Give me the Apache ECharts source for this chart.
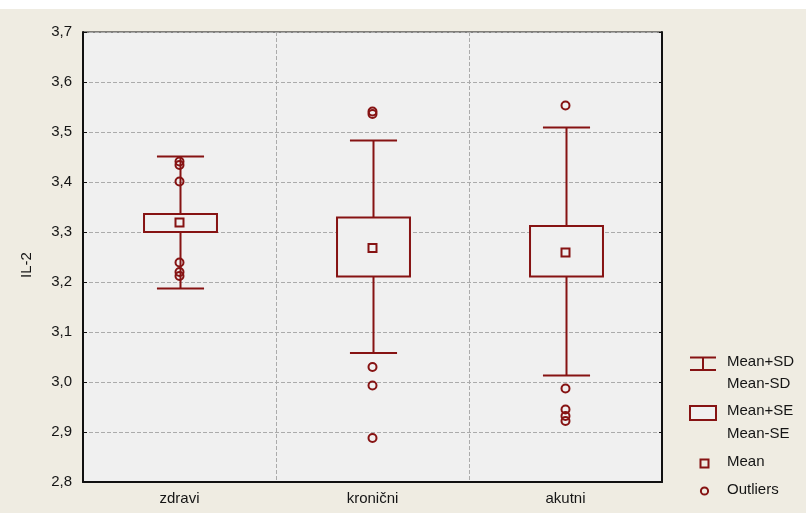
<!DOCTYPE html>
<html>
<head>
<meta charset="utf-8">
<script src="https://cdn.jsdelivr.net/npm/echarts@6/dist/echarts.min.js"></script>
<style>
html,body{margin:0;padding:0;background:#ffffff;}
#chart{position:absolute;left:0;top:9px;width:806px;height:504px;background:#EFECE2;}
</style>
</head>
<body>
<div id="chart"></div>
<script>
const categories = ['zdravi', 'kronični', 'akutni'];
const means  = [3.319, 3.268, 3.259];
const seUpper = [3.336, 3.329, 3.312];
const seLower = [3.300, 3.211, 3.211];
const sdUpper = [3.451, 3.483, 3.509];
const sdLower = [3.187, 3.058, 3.013];
const outliersZdravi = [3.441, 3.434, 3.401, 3.239, 3.220, 3.212];
const outliersKronicni = [3.541, 3.536, 3.030, 2.993, 2.888];
const outliersAkutni = [3.553, 2.987, 2.945, 2.932, 2.922];
const yTicks = { min: 2.8, max: 3.7, interval: 0.1 };

const RED = '#861313';
const PLOT_BG = '#F0F0F0';
const FONT = "'Liberation Sans', Arial, sans-serif";
const TXT = '#151515';

const boxData = categories.map((c, i) => [i, sdLower[i], seLower[i], means[i], seUpper[i], sdUpper[i]]);
const outlierGroups = [outliersZdravi, outliersKronicni, outliersAkutni];
const outlierData = [];
outlierGroups.forEach((g, i) => g.forEach(v => outlierData.push([i, v])));
const meanData = categories.map((c, i) => [i, means[i]]);

const chart = echarts.init(document.getElementById('chart'), null, {renderer: 'canvas'});

function renderWhisker(params, api) {
  const idx = api.value(0);
  const band = api.size([1, 0])[0];
  const capW = band * 0.244;
  const lo = api.coord([idx, api.value(1)]);
  const hi = api.coord([idx, api.value(5)]);
  const x = Math.round(lo[0]) + 0.5;
  const st = {stroke: RED, lineWidth: 2, fill: null};
  return {
    type: 'group',
    children: [
      {type: 'line', shape: {x1: x, y1: lo[1], x2: x, y2: hi[1]}, style: st},
      {type: 'line', shape: {x1: x - capW / 2, y1: lo[1], x2: x + capW / 2, y2: lo[1]}, style: st},
      {type: 'line', shape: {x1: x - capW / 2, y1: hi[1], x2: x + capW / 2, y2: hi[1]}, style: st}
    ]
  };
}

function renderBox(params, api) {
  const idx = api.value(0);
  const band = api.size([1, 0])[0];
  const boxW = band * 0.378;
  const lo = api.coord([idx, api.value(2)]);
  const hi = api.coord([idx, api.value(4)]);
  const x = Math.round(lo[0]) + 0.5;
  return {
    type: 'rect',
    shape: {x: x - boxW / 2, y: hi[1], width: boxW, height: lo[1] - hi[1]},
    style: {stroke: RED, lineWidth: 2, fill: PLOT_BG}
  };
}

const legendX = 690;
const legendTextX = 727;
const textStyle = (t, y) => ({
  type: 'text', left: legendTextX, top: y - 9,
  style: {text: t, fill: TXT, font: '15px ' + FONT, textVerticalAlign: 'top'}
});

const option = {
  animation: false,
  backgroundColor: '#EFECE2',
  textStyle: {fontFamily: FONT},
  grid: {left: 83, right: 144, top: 23, bottom: 31, show: true, backgroundColor: PLOT_BG, borderColor: '#111', borderWidth: 1},
  xAxis: {
    type: 'category',
    data: categories,
    boundaryGap: true,
    axisLine: {show: true, lineStyle: {color: '#111', width: 2}},
    axisTick: {show: false},
    axisLabel: {color: TXT, fontSize: 15, fontFamily: FONT, margin: 9},
    splitLine: {show: true, interval: 0, lineStyle: {color: '#ABABAB', type: [4, 2], width: 1}}
  },
  yAxis: [{
    type: 'value',
    min: yTicks.min, max: yTicks.max, interval: yTicks.interval,
    axisLine: {show: true, lineStyle: {color: '#111', width: 2}},
    axisTick: {show: true, inside: true, length: 4, lineStyle: {color: '#111'}},
    axisLabel: {color: TXT, fontSize: 15, fontFamily: FONT, margin: 11,
      formatter: v => v.toFixed(1).replace('.', ',')},
    splitLine: {show: true, lineStyle: {color: '#ABABAB', type: [4, 2], width: 1}}
  }, {
    type: 'value', position: 'right',
    min: yTicks.min, max: yTicks.max, interval: yTicks.interval,
    axisLine: {show: true, lineStyle: {color: '#111', width: 2}},
    axisTick: {show: true, inside: true, length: 3, lineStyle: {color: '#111'}},
    axisLabel: {show: false},
    splitLine: {show: false}
  }],
  series: [
    {
      name: 'SD', type: 'custom', renderItem: renderWhisker,
      data: boxData, encode: {x: 0, y: [1, 5]}, z: 2
    },
    {
      name: 'SE', type: 'custom', renderItem: renderBox,
      data: boxData, encode: {x: 0, y: [2, 4]}, z: 3
    },
    {
      name: 'Mean', type: 'scatter', data: meanData, symbol: 'rect', symbolSize: 8,
      itemStyle: {color: PLOT_BG, borderColor: RED, borderWidth: 2, opacity: 1}, z: 5
    },
    {
      name: 'Outliers', type: 'scatter', data: outlierData, symbol: 'circle', symbolSize: 8,
      itemStyle: {color: 'rgba(0,0,0,0)', borderColor: RED, borderWidth: 2, opacity: 1}, z: 4
    }
  ],
  graphic: [
    {type: 'text', x: 27, y: 256, rotation: Math.PI / 2,
      style: {text: 'IL-2', fill: TXT, font: '15px ' + FONT, textAlign: 'center', textVerticalAlign: 'middle'}},
    // SD legend symbol
    {type: 'line', shape: {x1: legendX, y1: 348.5, x2: legendX + 26, y2: 348.5}, style: {stroke: RED, lineWidth: 2}},
    {type: 'line', shape: {x1: legendX, y1: 361, x2: legendX + 26, y2: 361}, style: {stroke: RED, lineWidth: 2}},
    {type: 'line', shape: {x1: legendX + 13, y1: 348.5, x2: legendX + 13, y2: 361}, style: {stroke: RED, lineWidth: 2}},
    textStyle('Mean+SD', 354.5),
    textStyle('Mean-SD', 376),
    // SE legend symbol
    {type: 'rect', shape: {x: legendX, y: 397, width: 26, height: 14}, style: {stroke: RED, lineWidth: 2, fill: PLOT_BG}},
    textStyle('Mean+SE', 403),
    textStyle('Mean-SE', 426),
    // Mean legend symbol
    {type: 'rect', shape: {x: 700.5, y: 450.5, width: 8, height: 8}, style: {stroke: RED, lineWidth: 2, fill: '#EFECE2'}},
    textStyle('Mean', 454.5),
    // Outliers legend symbol
    {type: 'circle', shape: {cx: 704.5, cy: 482, r: 3.6}, style: {stroke: RED, lineWidth: 2, fill: 'none'}},
    textStyle('Outliers', 482)
  ]
};
chart.setOption(option);
</script>
</body>
</html>
